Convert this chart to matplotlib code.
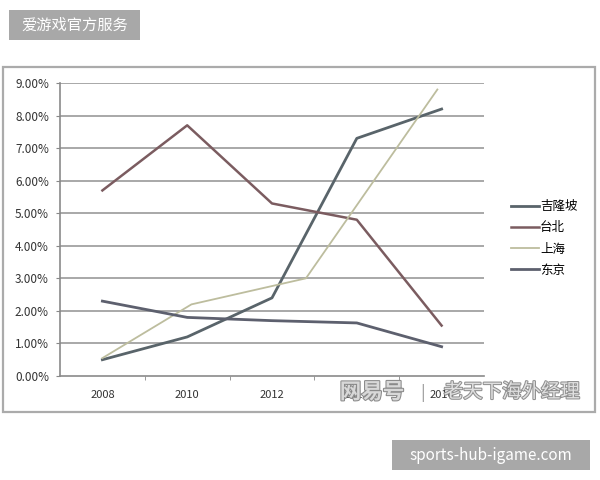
import matplotlib
matplotlib.use('Agg')
import matplotlib.pyplot as plt
import matplotlib.patheffects as pe
from matplotlib.patches import Rectangle
from matplotlib.ticker import FixedLocator, FuncFormatter

plt.rcParams['font.family'] = ['Noto Sans CJK SC', 'DejaVu Sans']

years = ['2008', '2010', '2012', '2014', '2016']
kuala_lumpur = [0.5, 1.2, 2.4, 7.3, 8.2]
taipei = [5.7, 7.7, 5.3, 4.8, 1.55]
shanghai_years = [2008, 2010.1, 2012.8, 2015.9]
shanghai = [0.55, 2.2, 3.0, 8.8]
tokyo = [2.3, 1.8, 1.7, 1.63, 0.9]
series_names = ['吉隆坡', '台北', '上海', '东京']
colors = ['#59646a', '#7b5c60', '#bdbd9e', '#5d606e']

fig = plt.figure(figsize=(6, 4.8), dpi=100)
W, H = 600, 480

# chart frame
fig.patches.append(Rectangle((3 / W, 1 - 412 / H), 592 / W, 345 / H, transform=fig.transFigure,
                             fill=False, edgecolor='#ababab', linewidth=1.6))

ax = fig.add_axes([60 / W, 1 - 376 / H, 424 / W, 293 / H])
x = list(range(len(years)))
sx = [(y - 2008) / 2 for y in shanghai_years]

for v in range(1, 10):
    ax.axhline(v, color='#9a9a9a', linewidth=1.2, zorder=1)

ax.plot(x, kuala_lumpur, color=colors[0], linewidth=2.0, label=series_names[0], zorder=3)
ax.plot(x, taipei, color=colors[1], linewidth=1.8, label=series_names[1], zorder=3)
ax.plot(sx, shanghai, color=colors[2], linewidth=1.3, label=series_names[2], zorder=3)
ax.plot(x, tokyo, color=colors[3], linewidth=2.0, label=series_names[3], zorder=3)

ax.set_xlim(-0.5, 4.5)
ax.set_ylim(0, 9)
ax.yaxis.set_major_locator(FixedLocator(range(10)))
ax.yaxis.set_major_formatter(FuncFormatter(lambda v, p: f'{v:.2f}%'))
ax.set_xticks(x)
ax.set_xticklabels(years)
ax.set_xticks([0.5, 1.5, 2.5, 3.5], minor=True)
ax.tick_params(axis='x', which='major', length=0, pad=10, labelsize=8, labelcolor='#333333')
ax.tick_params(axis='x', which='minor', length=3, color='#888888', direction='out')
ax.tick_params(axis='y', length=3, color='#888888', labelsize=8.5, labelcolor='#333333', pad=5)
for s in ['top', 'right']:
    ax.spines[s].set_visible(False)
ax.spines['left'].set_color('#8a8a8a')
ax.spines['bottom'].set_color('#8a8a8a')
ax.spines['left'].set_linewidth(1.2)
ax.spines['bottom'].set_linewidth(1.2)

leg = fig.legend(loc='upper left', bbox_to_anchor=(500 / W, 1 - 189 / H), frameon=False,
                 fontsize=9, handlelength=2.2, handletextpad=0.1, labelspacing=0.65)

# watermark (sits over the last x labels, as in the source image)
fig.text(372 / W, 1 - 392 / H, '网易号', fontsize=15.5, fontweight='bold', color='#d8d8d8',
         ha='center', va='center', zorder=5,
         path_effects=[pe.withStroke(linewidth=1.5, foreground='#8a8a8a')])
fig.text(423 / W, 1 - 393 / H, '|', fontsize=12, color='#999999', ha='center', va='center', zorder=5)
fig.text(512 / W, 1 - 392 / H, '老天下海外经理', fontsize=14, fontstyle='italic', color='#e0e0e0',
         ha='center', va='center', zorder=5,
         path_effects=[pe.withStroke(linewidth=1.5, foreground='#909090')])

# top-left label
fig.patches.append(Rectangle((9 / W, 1 - 40 / H), 131 / W, 30 / H, transform=fig.transFigure,
                             facecolor='#a8a8a8', edgecolor='none'))
fig.text(74.5 / W, 1 - 25 / H, '爱游戏官方服务', fontsize=11, color='white', ha='center', va='center')

# bottom-right label
fig.patches.append(Rectangle((392 / W, 1 - 470 / H), 198 / W, 30 / H, transform=fig.transFigure,
                             facecolor='#a8a8a8', edgecolor='none'))
fig.text(491 / W, 1 - 455 / H, 'sports-hub-igame.com', fontsize=11, color='white',
         ha='center', va='center')

fig.savefig('out.png', dpi=100)
